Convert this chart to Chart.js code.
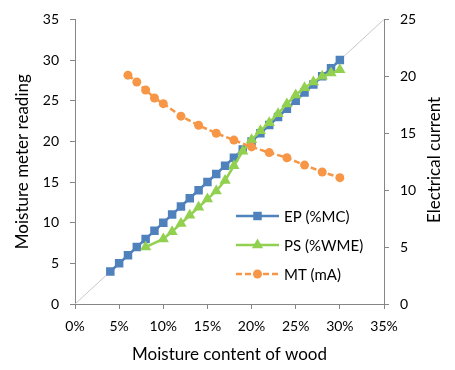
<!DOCTYPE html>
<html>
<head>
<meta charset="utf-8">
<script src="https://cdn.jsdelivr.net/npm/chart.js"></script>
<style>
  body { margin: 0; background: #fff; }
  canvas { display: block; }
</style>
</head>
<body>
<canvas id="moistureChart" width="455" height="370"></canvas>
<script>
// moisture content of wood (%), x values
var epX = [4, 5, 6, 7, 8, 9, 10, 11, 12, 13, 14, 15, 16, 17, 18, 19, 20, 21, 22, 23, 24, 25, 26, 27, 28, 29, 30];
var epY = [4, 5, 6, 7, 8, 9, 10, 11, 12, 13, 14, 15, 16, 17, 18, 19, 20, 21, 22, 23, 24, 25, 26, 27, 28, 29, 30];

var psX = [8, 10, 11, 12, 13, 14, 15, 16, 17, 18, 19, 20, 21, 22, 23, 24, 25, 26, 27, 28, 29, 30];
var psY = [7.0, 8.0, 8.9, 9.9, 10.9, 11.9, 12.9, 13.9, 15.2, 17.0, 18.8, 20.2, 21.3, 22.3, 23.4, 24.6, 25.7, 26.6, 27.3, 28.0, 28.4, 28.8];

// electrical current (mA), right axis
var mtX = [6, 7, 8, 9, 10, 12, 14, 16, 18, 20, 22, 24, 26, 28, 30];
var mtY = [20.1, 19.5, 18.8, 18.1, 17.6, 16.5, 15.7, 15.0, 14.4, 13.8, 13.3, 12.85, 12.2, 11.6, 11.1];

// 1:1 reference line
var refX = [0, 35];
var refY = [0, 35];

var leftTicks = [0, 5, 10, 15, 20, 25, 30, 35];
var rightTicks = [0, 5, 10, 15, 20, 25];
var xTicks = [0, 5, 10, 15, 20, 25, 30, 35];

var blue = '#4F81BD', green = '#92D050', orange = '#F79646';
var axisGrey = '#868686';
var FONT = 'Lato';

function pts(xs, ys) {
  return xs.map(function(x, i) { return { x: x, y: ys[i] }; });
}

// legend drawn inside the plot, like the Excel one
var legendItems = [
  { text: 'EP (%MC)', color: blue, style: 'rect', r: 6, dash: [] },
  { text: 'PS (%WME)', color: green, style: 'triangle', r: 6.5, dash: [] },
  { text: 'MT (mA)', color: orange, style: 'circle', r: 4.5, dash: [6, 3] }
];

function marker(ctx, style, r, x, y) {
  ctx.beginPath();
  if (style === 'rect') {
    var s = r * Math.SQRT1_2;
    ctx.rect(x - s, y - s, 2 * s, 2 * s);
  } else if (style === 'triangle') {
    ctx.moveTo(x, y - r);
    ctx.lineTo(x + r * 0.866, y + r / 2);
    ctx.lineTo(x - r * 0.866, y + r / 2);
    ctx.closePath();
  } else {
    ctx.arc(x, y, r, 0, Math.PI * 2);
  }
  ctx.fill();
}

var extras = {
  id: 'extras',
  afterDraw: function(chart) {
    var ctx = chart.ctx;
    ctx.save();
    legendItems.forEach(function(it, i) {
      var y = 216 + i * 29;
      ctx.strokeStyle = it.color;
      ctx.fillStyle = it.color;
      ctx.lineWidth = 2.5;
      ctx.setLineDash(it.dash);
      ctx.beginPath();
      ctx.moveTo(236, y);
      ctx.lineTo(279, y);
      ctx.stroke();
      ctx.setLineDash([]);
      marker(ctx, it.style, it.r, 257.5, y);
      ctx.fillStyle = '#000';
      ctx.font = '15px ' + FONT;
      ctx.textAlign = 'left';
      ctx.textBaseline = 'middle';
      ctx.fillText(it.text, 284, y + 1);
    });
    // right axis title reads bottom to top
    ctx.translate(435, 160);
    ctx.rotate(-Math.PI / 2);
    ctx.fillStyle = '#000';
    ctx.font = '17px ' + FONT;
    ctx.textAlign = 'center';
    ctx.textBaseline = 'middle';
    ctx.fillText('Electrical current', 0, 0);
    ctx.restore();
  }
};

var ctx = document.getElementById('moistureChart').getContext('2d');
var moistureChart = new Chart(ctx, {
  type: 'line',
  data: {
    datasets: [{
      label: 'MT (mA)',
      data: pts(mtX, mtY),
      yAxisID: 'y2',
      borderColor: orange,
      backgroundColor: orange,
      borderWidth: 2.5,
      borderDash: [6, 3],
      pointStyle: 'circle',
      pointRadius: 4.5,
      pointBorderWidth: 0,
      order: 0
    }, {
      label: 'PS (%WME)',
      data: pts(psX, psY),
      yAxisID: 'y',
      borderColor: green,
      backgroundColor: green,
      borderWidth: 2.5,
      pointStyle: 'triangle',
      pointRadius: 6.5,
      pointBorderWidth: 0,
      order: 1
    }, {
      label: 'EP (%MC)',
      data: pts(epX, epY),
      yAxisID: 'y',
      borderColor: blue,
      backgroundColor: blue,
      borderWidth: 2.5,
      pointStyle: 'rect',
      pointRadius: 6,
      pointBorderWidth: 0,
      order: 2
    }, {
      label: '1:1',
      data: pts(refX, refY),
      yAxisID: 'y',
      borderColor: '#C8C8C8',
      borderWidth: 1,
      pointRadius: 0,
      order: 3
    }]
  },
  options: {
    responsive: false,
    animation: false,
    devicePixelRatio: 1,
    layout: { padding: { top: 16, left: 0, right: 0, bottom: 0 } },
    plugins: {
      legend: { display: false },
      tooltip: { enabled: false }
    },
    scales: {
      x: {
        type: 'linear',
        min: 0,
        max: 35,
        afterBuildTicks: function(scale) {
          scale.ticks = xTicks.map(function(v) { return { value: v }; });
        },
        afterFit: function(scale) { scale.height = 66; },
        grid: { drawOnChartArea: false, color: axisGrey, tickLength: 5 },
        border: { color: axisGrey },
        ticks: {
          padding: 9,
          color: '#000',
          font: { family: FONT, size: 14 },
          callback: function(value) { return value + '%'; }
        },
        title: {
          display: true,
          text: 'Moisture content of wood',
          color: '#000',
          font: { family: FONT, size: 17 },
          padding: { top: 0, bottom: 5 }
        }
      },
      y: {
        position: 'left',
        min: 0,
        max: 35,
        afterBuildTicks: function(scale) {
          scale.ticks = leftTicks.map(function(v) { return { value: v }; });
        },
        afterFit: function(scale) { scale.width = 75; },
        grid: { drawOnChartArea: false, color: axisGrey, tickLength: 5 },
        border: { color: axisGrey },
        ticks: {
          padding: 11,
          color: '#000',
          font: { family: FONT, size: 14 }
        },
        title: {
          display: true,
          text: 'Moisture meter reading',
          color: '#000',
          font: { family: FONT, size: 17 },
          padding: { top: 12, bottom: 0 }
        }
      },
      y2: {
        position: 'right',
        min: 0,
        max: 25,
        afterBuildTicks: function(scale) {
          scale.ticks = rightTicks.map(function(v) { return { value: v }; });
        },
        afterFit: function(scale) { scale.width = 71; },
        grid: { drawOnChartArea: false, color: axisGrey, tickLength: 5 },
        border: { color: axisGrey },
        ticks: {
          padding: 11,
          color: '#000',
          font: { family: FONT, size: 14 }
        }
      }
    }
  },
  plugins: [extras]
});
</script>
</body>
</html>
